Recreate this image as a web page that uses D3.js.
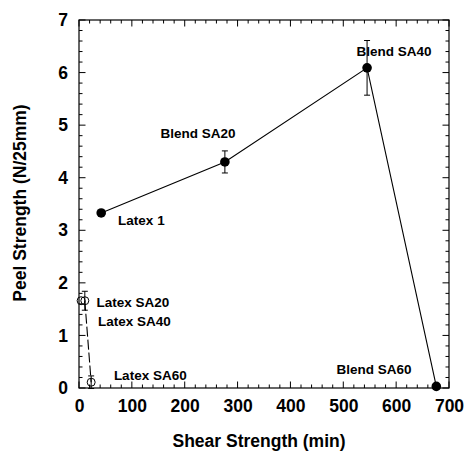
<!DOCTYPE html>
<html><head><meta charset="utf-8">
<script src="https://cdn.jsdelivr.net/npm/d3@7"></script>
<style>body{margin:0;background:#fff}svg{display:block}text{font-family:"Liberation Sans",Arial,sans-serif;font-weight:bold;fill:#000}</style>
</head><body>
<script>
// Blend series (filled circles, solid line)
const blendNames = ["Latex 1","Blend SA20","Blend SA40","Blend SA60"];
const blendX = [42, 276, 545, 676];
const blendY = [3.33, 4.30, 6.09, 0.03];
const blendErr = [0, 0.21, 0.52, 0];
// Latex series (open circles, dashed line)
const latexNames = ["Latex SA20","Latex SA40","Latex SA60"];
const latexX = [11, 4, 23];
const latexY = [1.66, 1.66, 0.11];
const latexErr = [0.18, 0, 0.12];
// annotation anchors (data units)
const labelText = ["Latex 1","Blend SA20","Blend SA40","Blend SA60","Latex SA20","Latex SA40","Latex SA60"];
const labelX = [74, 154, 525, 487, 33, 36, 66];
const labelY = [3.10, 4.75, 6.31, 0.27, 1.55, 1.17, 0.15];
const xTicks = [0,100,200,300,400,500,600,700];
const yTicks = [0,1,2,3,4,5,6,7];

const W=464,H=453;
const svg=d3.select("body").append("svg").attr("width",W).attr("height",H);
const x=d3.scaleLinear().domain([0,700]).range([79,449]);
const y=d3.scaleLinear().domain([0,7]).range([388,20]);

// frame
svg.append("rect").attr("x",x(0)).attr("y",y(7)).attr("width",x(700)-x(0)).attr("height",y(0)-y(7))
 .attr("fill","none").attr("stroke","#000").attr("stroke-width",1.2);

const xMinor=d3.range(0,701,20), yMinor=d3.range(0,7.001,0.2);
const t=svg.append("g").attr("stroke","#000").attr("stroke-width",1);
xMinor.forEach(v=>{
  const major=Math.abs(v%100)<1e-6; const L=major?6.5:3.5;
  t.append("line").attr("x1",x(v)).attr("x2",x(v)).attr("y1",y(0)).attr("y2",y(0)-L);
  t.append("line").attr("x1",x(v)).attr("x2",x(v)).attr("y1",y(7)).attr("y2",y(7)+L);
});
yMinor.forEach(v=>{
  const major=Math.abs(v-Math.round(v))<1e-6; const L=major?6.5:3.5;
  t.append("line").attr("y1",y(v)).attr("y2",y(v)).attr("x1",x(0)).attr("x2",x(0)+L);
  t.append("line").attr("y1",y(v)).attr("y2",y(v)).attr("x1",x(700)).attr("x2",x(700)-L);
});

// tick labels via axes
const xa=svg.append("g").attr("transform",`translate(0,${y(0)})`)
 .call(d3.axisBottom(x).tickValues(xTicks).tickSize(0).tickPadding(12).tickFormat(d3.format("d")));
xa.select(".domain").remove();
xa.selectAll("text").attr("font-size",17.5).attr("font-family","Liberation Sans, Arial, sans-serif").attr("font-weight","bold").attr("fill","#000");
const ya=svg.append("g").attr("transform",`translate(${x(0)},0)`)
 .call(d3.axisLeft(y).tickValues(yTicks).tickSize(0).tickPadding(11).tickFormat(d3.format("d")));
ya.select(".domain").remove();
ya.selectAll("text").attr("font-size",17.5).attr("font-family","Liberation Sans, Arial, sans-serif").attr("font-weight","bold").attr("fill","#000");

// titles
svg.append("text").attr("x",259).attr("y",447).attr("text-anchor","middle").attr("font-size",17.5).text("Shear Strength (min)");
svg.append("text").attr("transform","translate(26,203) rotate(-90)").attr("text-anchor","middle").attr("font-size",17.5).text("Peel Strength (N/25mm)");

const blend=blendX.map((v,i)=>({x:v,y:blendY[i],e:blendErr[i]}));
const latex=latexX.map((v,i)=>({x:v,y:latexY[i],e:latexErr[i]}));
const line=d3.line().x(d=>x(d.x)).y(d=>y(d.y));
svg.append("path").datum(blend).attr("d",line).attr("fill","none").attr("stroke","#000").attr("stroke-width",1.1);
svg.append("path").datum([latex[0],latex[2]]).attr("d",line).attr("fill","none").attr("stroke","#000").attr("stroke-width",1.1).attr("stroke-dasharray","10,3");

function errbars(data){
  data.filter(d=>d.e>0).forEach(d=>{
    const e=svg.append("g").attr("stroke","#000").attr("stroke-width",1);
    e.append("line").attr("x1",x(d.x)).attr("x2",x(d.x)).attr("y1",y(d.y-d.e)).attr("y2",y(d.y+d.e));
    [d.y-d.e,d.y+d.e].forEach(v=>e.append("line").attr("x1",x(d.x)-3).attr("x2",x(d.x)+3).attr("y1",y(v)).attr("y2",y(v)));
  });
}
errbars(blend); errbars(latex);

svg.selectAll(".bpt").data(blend).join("circle").attr("cx",d=>x(d.x)).attr("cy",d=>y(d.y)).attr("r",4.8).attr("fill","#000");
svg.selectAll(".lpt").data(latex).join("circle").attr("cx",d=>x(d.x)).attr("cy",d=>y(d.y)).attr("r",4).attr("fill","none").attr("stroke","#000").attr("stroke-width",1);

labelText.forEach((s,i)=>{
  svg.append("text").attr("x",x(labelX[i])).attr("y",y(labelY[i])).attr("font-size",13.5).text(s);
});
</script>
</body></html>
